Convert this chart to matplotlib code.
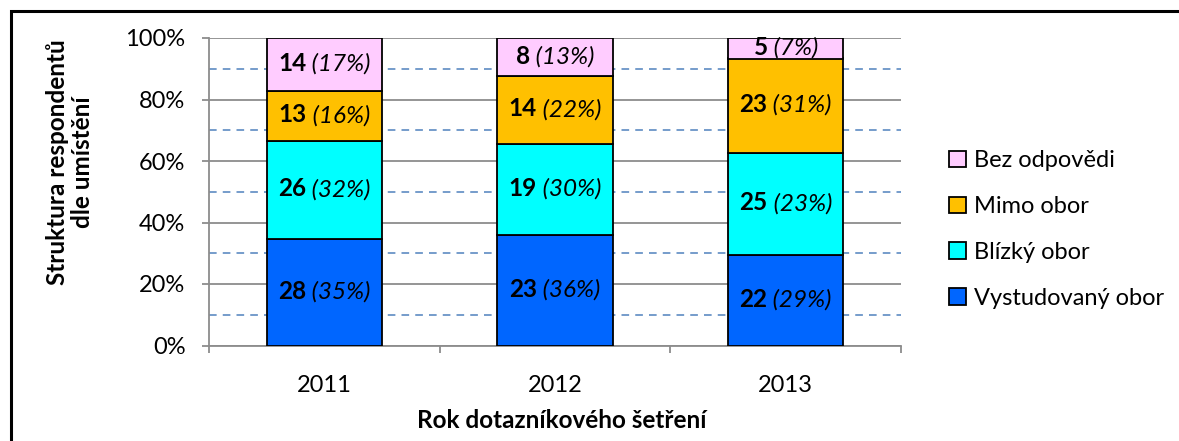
import numpy as np
import matplotlib
matplotlib.use('Agg')
import matplotlib.pyplot as plt
import matplotlib.patches as patches
from matplotlib.offsetbox import TextArea, HPacker, AnnotationBbox
from matplotlib.ticker import MultipleLocator, FixedLocator, PercentFormatter

plt.rcParams['font.family'] = ['Lato', 'DejaVu Sans']

# data
years = ['2011', '2012', '2013']
groups = ['Vystudovaný obor', 'Blízký obor', 'Mimo obor', 'Bez odpovědi']
vystudovany = [28, 23, 22]
blizky = [26, 19, 25]
mimo = [13, 14, 23]
bez = [14, 8, 5]
# percent labels as printed in the source (2013 "23%" kept as shown)
pct_vystudovany = ['35%', '36%', '29%']
pct_blizky = ['32%', '30%', '23%']
pct_mimo = ['16%', '22%', '31%']
pct_bez = ['17%', '13%', '7%']

colors = ['#0066FF', '#00FFFF', '#FFC000', '#FFCCFF']

counts = np.array([vystudovany, blizky, mimo, bez], dtype=float)
pcts = [pct_vystudovany, pct_blizky, pct_mimo, pct_bez]
shares = counts / counts.sum(axis=0) * 100

fig = plt.figure(figsize=(11.79, 4.41), dpi=100)
ax = fig.add_axes([209/1179, 1 - 345.5/441, 692/1179, 307.5/441])

x = np.arange(len(years))
bottom = np.zeros(len(years))
handles = []
for i in range(len(groups)):
    b = ax.bar(x, shares[i], 0.5, bottom=bottom, color=colors[i],
               edgecolor='black', linewidth=1.3, label=groups[i], zorder=3)
    handles.append(b)
    for j in range(len(years)):
        ta1 = TextArea(str(int(counts[i, j])),
                       textprops=dict(fontweight='bold', fontsize=17.5, color='black'))
        ta2 = TextArea(' (' + pcts[i][j] + ')',
                       textprops=dict(fontstyle='italic', fontsize=17.5, color='black'))
        box = HPacker(children=[ta1, ta2], align='baseline', pad=0, sep=0)
        ab = AnnotationBbox(box, (x[j], bottom[j] + shares[i, j] / 2), frameon=False,
                            box_alignment=(0.5, 0.45), pad=0, zorder=5)
        ax.add_artist(ab)
    bottom += shares[i]

ax.set_xlim(-0.5, 2.5)
ax.set_ylim(0, 100)
ax.yaxis.set_major_locator(MultipleLocator(20))
ax.yaxis.set_minor_locator(FixedLocator([10, 30, 50, 70, 90]))
ax.yaxis.set_major_formatter(PercentFormatter(decimals=0))
ax.set_xticks(x)
ax.set_xticklabels(years)
ax.xaxis.set_minor_locator(FixedLocator([-0.5, 0.5, 1.5, 2.5]))

ax.set_axisbelow(True)
ax.grid(True, which='major', axis='y', color='#8c8c8c', linewidth=1.3)
ax.grid(True, which='minor', axis='y', color='#4f81bd', linewidth=1.1, linestyle=(0, (5, 4)))

for s in ['top', 'right']:
    ax.spines[s].set_visible(False)
for s in ['left', 'bottom']:
    ax.spines[s].set_color('#8c8c8c')
    ax.spines[s].set_linewidth(1.3)

ax.tick_params(axis='y', which='major', length=5, width=1.3, color='#8c8c8c',
               labelsize=17, pad=12)
ax.tick_params(axis='y', which='minor', length=0)
ax.tick_params(axis='x', which='major', length=0, labelsize=17, pad=21)
ax.tick_params(axis='x', which='minor', length=5, width=1.3, color='#8c8c8c')

fig.text(70/1179, 1 - 162/441, 'Struktura respondentů\ndle umístění', rotation=90,
         ha='center', va='center', fontsize=17.5, fontweight='bold', linespacing=1.15)
fig.text(562/1179, 1 - 420/441, 'Rok dotazníkového šetření', ha='center', va='center',
         fontsize=17.5, fontweight='bold')

leg = fig.legend(handles[::-1], groups[::-1], loc='center left',
                 bbox_to_anchor=(940/1179, 1 - 229.5/441), frameon=False,
                 fontsize=17, handlelength=0.7, handleheight=0.7,
                 handletextpad=0.35, labelspacing=1.05, borderaxespad=0)

# outer chart frame (only top and left visible)
frame = patches.Rectangle((11/1179, -0.5), 2, 1.5 - 11/441, transform=fig.transFigure,
                          fill=False, edgecolor='black', linewidth=2.2)
fig.patches.append(frame)

fig.savefig('out.png', dpi=100)
